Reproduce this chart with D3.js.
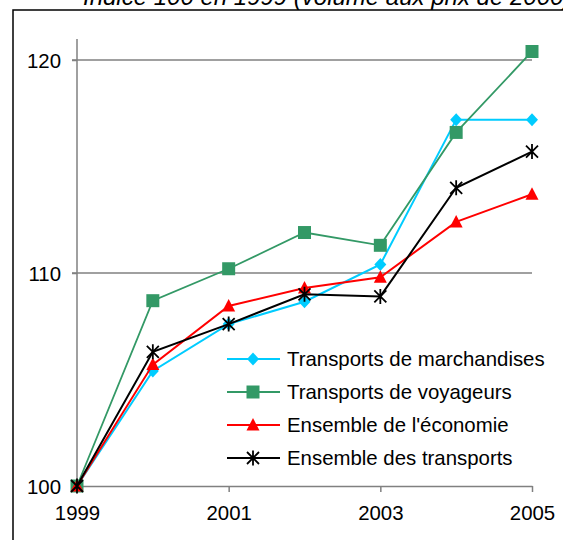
<!DOCTYPE html>
<meta charset="utf-8">
<style>
body { margin: 0; background: #fff; }
text { font-family: "Liberation Sans", Arial, sans-serif; font-size: 20.4px; fill: #000; }
</style>
<svg width="563" height="540"></svg>
<script src="https://d3js.org/d3.v7.min.js"></script>
<script>
"use strict";

// data (indice 100 en 1999)
var years = [1999, 2000, 2001, 2002, 2003, 2004, 2005];
var marchandises = [100, 105.4, 107.6, 108.65, 110.4, 117.2, 117.2];
var voyageurs = [100, 108.7, 110.2, 111.9, 111.3, 116.6, 120.4];
var economie = [100, 105.7, 108.45, 109.3, 109.8, 112.4, 113.7];
var transports = [100, 106.3, 107.6, 109.0, 108.9, 114.0, 115.7];
var seriesNames = ["Transports de marchandises", "Transports de voyageurs", "Ensemble de l'économie", "Ensemble des transports"];
var yTicks = [100, 110, 120];
var xTicks = [1999, 2001, 2003, 2005];

var svg = d3.select("svg");

var x = d3.scaleLinear().domain([1999, 2005]).range([77, 532]);
var y = d3.scaleLinear().domain([100, 120]).range([486, 60]);

// frame + title (title is cut by the top edge, as in the source)
svg.append("rect")
  .attr("x", 13).attr("y", 10).attr("width", 700).attr("height", 700)
  .attr("fill", "none").attr("stroke", "#000").attr("stroke-width", 1.5);

svg.append("text")
  .attr("x", 83).attr("y", 4.5)
  .style("font-style", "italic").style("font-size", "24px")
  .text("Indice 100 en 1999 (volume aux prix de 2000)");

// gridlines
svg.append("g").selectAll("line")
  .data(yTicks.filter(function(d) { return d > 100; }))
  .enter().append("line")
    .attr("x1", 72).attr("x2", x(2005))
    .attr("y1", function(d) { return y(d); })
    .attr("y2", function(d) { return y(d); })
    .attr("stroke", "#808080").attr("stroke-width", 1.5);

// y axis
var yAxis = svg.append("g")
  .attr("transform", "translate(" + x(1999) + ",0)")
  .call(d3.axisLeft(y).tickValues(yTicks).tickSize(5).tickPadding(11));
yAxis.select(".domain").attr("d", "M0,39V" + y(100)).attr("stroke", "#808080").attr("stroke-width", 1.5);
yAxis.selectAll(".tick line").attr("stroke", "#808080").attr("stroke-width", 1.5);
yAxis.selectAll("text").attr("dy", "0.35em");
yAxis.attr("font-size", null).attr("font-family", null);

// x axis
var xAxis = svg.append("g")
  .attr("transform", "translate(0," + y(100) + ")")
  .call(d3.axisBottom(x).tickValues(xTicks).tickFormat(d3.format("d")).tickSize(6).tickSizeOuter(0).tickPadding(14));
xAxis.select(".domain").attr("stroke", "#808080").attr("stroke-width", 1.5);
xAxis.selectAll(".tick line").attr("stroke", "#808080").attr("stroke-width", 1.5);
xAxis.attr("font-size", null).attr("font-family", null);

// markers
var markers = {
  diamond: "M0,-6.5L6,0L0,6.5L-6,0Z",
  square: "M-6.5,-6.5H6.5V6.5H-6.5Z",
  triangle: "M0,-7L6.5,5.5H-6.5Z",
  star: "M-6,-6L6,6M-6,6L6,-6M0,-7.5V7.5"
};

var series = [
  { name: seriesNames[0], values: marchandises, color: "#00CCFF", marker: "diamond", width: 2 },
  { name: seriesNames[1], values: voyageurs, color: "#339966", marker: "square", width: 1.8 },
  { name: seriesNames[2], values: economie, color: "#FF0000", marker: "triangle", width: 2 },
  { name: seriesNames[3], values: transports, color: "#000000", marker: "star", width: 2 }
];

var line = d3.line()
  .x(function(d, i) { return x(years[i]); })
  .y(function(d) { return y(d); });

function drawMarker(g, s) {
  if (s.marker == "star") {
    g.attr("d", markers.star).attr("fill", "none").attr("stroke", s.color).attr("stroke-width", 1.8);
  } else {
    g.attr("d", markers[s.marker]).attr("fill", s.color).attr("stroke", "none");
  }
}

series.forEach(function(s) {
  var g = svg.append("g");
  g.append("path")
    .attr("d", line(s.values))
    .attr("fill", "none").attr("stroke", s.color).attr("stroke-width", s.width);
  g.selectAll("path.m")
    .data(s.values)
    .enter().append("path")
      .attr("class", "m")
      .attr("transform", function(d, i) { return "translate(" + x(years[i]) + "," + y(d) + ")"; })
      .call(drawMarker, s);
});

// legend
var legend = svg.append("g").selectAll("g")
  .data(series)
  .enter().append("g")
    .attr("transform", function(d, i) { return "translate(0," + (359 + i * 33) + ")"; });

legend.append("line")
  .attr("x1", 227).attr("x2", 280)
  .attr("stroke", function(d) { return d.color; })
  .attr("stroke-width", function(d) { return d.width; });

legend.append("path")
  .attr("transform", "translate(253,0)")
  .each(function(d) { drawMarker(d3.select(this), d); });

legend.append("text")
  .attr("x", 287).attr("dy", "0.35em")
  .text(function(d) { return d.name; });
</script>
